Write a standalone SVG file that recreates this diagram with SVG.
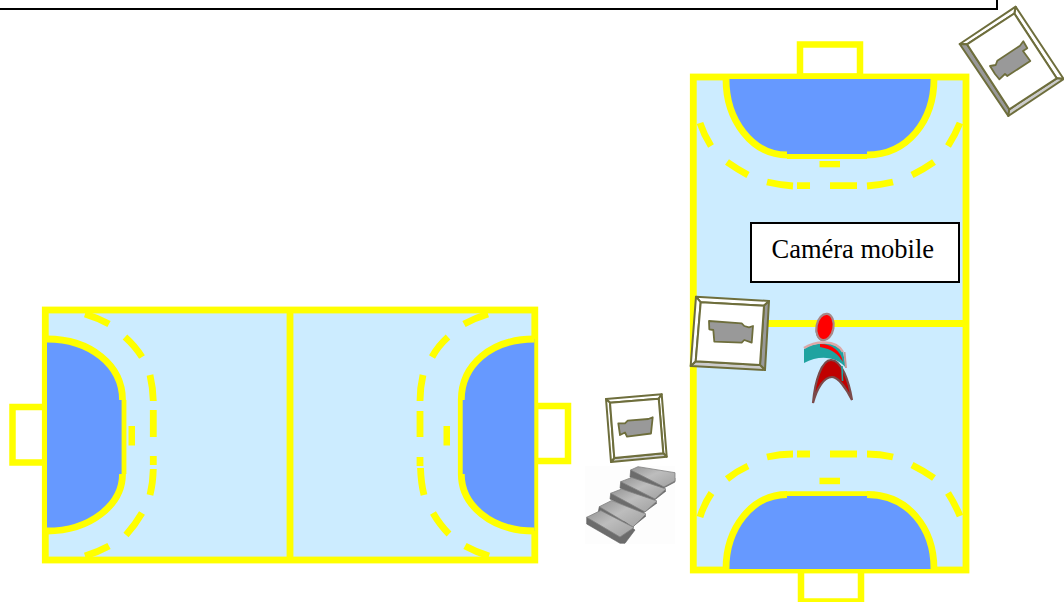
<svg xmlns="http://www.w3.org/2000/svg" width="1064" height="602" viewBox="0 0 1064 602">
<style>
.court{fill:#CCECFF;stroke:#FFFF00;stroke-width:6.8}
.goal{fill:#FFFFFF;stroke:#FFFF00;stroke-width:6.5}
.line{fill:none;stroke:#FFFF00;stroke-width:6.8}
.thin{fill:none;stroke:#FFFF00;stroke-width:4.8}
.area{fill:#6699FF}
.mark{fill:#FFFF00}
.frame{fill:#FFFFFF;stroke:#6E6E3C;stroke-width:2;stroke-linejoin:round}
.bl{fill:#FFFFFF;stroke:#6E6E3C;stroke-width:2;stroke-linejoin:round}
.bd{fill:#999999;stroke:#6E6E3C;stroke-width:2;stroke-linejoin:round}
.bg{fill:#CCCCCC;stroke:#6E6E3C;stroke-width:2;stroke-linejoin:round}
.icon{fill:#999999;stroke:#6E6E3C;stroke-width:1.8;stroke-linejoin:round}
.box{fill:#FFFFFF;stroke:#000000;stroke-width:2}
.label{font-family:"Liberation Serif","Times New Roman",serif;font-size:26.5px;fill:#000000;text-anchor:middle}
.sf{fill:url(#stepTop);stroke:#808080;stroke-width:.8}
.sd{fill:#6C6C6C;stroke:#606060;stroke-width:.6}
</style>
<defs>
<linearGradient id="stepTop" x1="0" y1="0" x2="1" y2="1">
<stop offset="0" stop-color="#959595"/><stop offset=".45" stop-color="#BDBDBD"/><stop offset="1" stop-color="#A0A0A0"/>
</linearGradient>
<filter id="soft" x="-5%" y="-5%" width="110%" height="110%"><feGaussianBlur stdDeviation=".6"/></filter>
</defs>

<g id="title-box"><rect class="box" x="-10" y="-10" width="1007" height="19"/></g>

<g id="court-left">
<rect class="goal" x="12.5" y="407" width="33" height="55.5"/>
<rect class="goal" x="535" y="406" width="33" height="55"/>
<rect class="court" x="45.3" y="310" width="489.5" height="250"/>
<path class="line" d="M290,310V560"/>
<path class="area" d="M47,339C90,339 122.5,365 122.5,400H122V474H122.5C122.5,505 90,531 47,531Z"/>
<path class="line" d="M47,339C90,339 122.5,365 122.5,400"/>
<path class="line" d="M122.5,474C122.5,505 90,531 47,531"/>
<path class="thin" d="M124,400V474"/>
<path class="area" d="M534.3,339C491,339 461.3,365 461.3,400H462V474H461.3C461.3,505 491,531 534.3,531Z"/>
<path class="line" d="M534.3,339C491,339 461.3,365 461.3,400"/>
<path class="line" d="M461.3,474C461.3,505 491,531 534.3,531"/>
<path class="thin" d="M460.3,400V474"/>
<rect class="mark" x="128.5" y="426" width="6.5" height="19.5"/>
<rect class="mark" x="443.5" y="426" width="6.5" height="19.5"/>
<path class="line" d="M85,314Q98,318 109,324M125,337Q135,346 142,357M150,375Q153,388 153.3,401M153.3,410V437M153.3,456V465M153.3,469Q153,483 150,495M142,513Q135,525 126,535M109,546Q98,552 85,556"/>
<path class="line" d="M488,314Q475,318 464,324M448,337Q438,346 432,357M423,375Q420,388 420,401M420,411V437M420,457V466M420.5,468Q421,483 424,495M433,513Q440,525 449,534M465,546Q476,552 489,556"/>
</g>

<g id="court-right">
<rect class="goal" x="800" y="44.5" width="60" height="32"/>
<rect class="goal" x="801" y="568" width="60" height="33.5"/>
<rect class="court" x="693.3" y="77" width="272.7" height="493"/>
<path class="line" d="M697,323.5H963"/>
<path class="area" d="M726,79C726,120 752,155 787,155V154H867V155C908,155 934,120 934,79Z"/>
<path class="line" d="M726,79C726,120 752,155 787,155"/>
<path class="line" d="M934,79C934,120 908,155 867,155"/>
<path class="thin" d="M787,156.5H867"/>
<path class="area" d="M726,569C726,528 752,494.5 787,494.5V495H867V494.5C908,494.5 934,528 934,569Z"/>
<path class="line" d="M726,569C726,528 752,494.5 787,494.5"/>
<path class="line" d="M934,569C934,528 908,494.5 867,494.5"/>
<path class="thin" d="M787,493.7H867"/>
<rect class="mark" x="819.5" y="161" width="20.5" height="6.3"/>
<rect class="mark" x="819.5" y="477.7" width="20.5" height="6.5"/>
<path class="line" d="M700,123Q704,135 711,146M727,162Q737,169 748,175M767,182Q780,185 793,186M797,185.7H810M830,185.7H857M867,186Q880,185 893,182M912,175Q924,169 934,162M948,146Q955,135 960,123"/>
<path class="line" d="M700,517Q704,504 711.5,493M727,479Q737,471 748,466M767,457Q780,454 793,454M797,454H810M830,454H857M867,454Q880,454 893,457M912,465Q924,471 934,478M948,493Q955,504 960,516"/>
</g>

<g id="label-camera-mobile">
<rect class="box" x="751" y="223" width="208" height="59"/>
<text class="label" x="852.8" y="258">Caméra mobile</text>
</g>

<g id="camera-top-right">
<polygon class="bl" points="1015.7,6.7 1063.7,79 1056.7,78.3 1014.3,13.5"/>
<polygon class="bl" points="959.7,44 1015.7,6.7 1014.3,13.5 967,44.3"/>
<polygon class="bd" points="959.7,44 967,44.3 1009.3,109.3 1008.3,116"/>
<polygon class="bg" points="1008.3,116 1009.3,109.3 1056.7,78.3 1063.7,79"/>
<polygon class="frame" points="1014.3,13.5 967,44.3 1009.3,109.3 1056.7,78.3"/>
<polygon class="icon" points="990,66 995.7,65 997.3,60.7 1020,45.7 1023.3,41.3 1027.3,48.3 1023,51 1030.3,61 1007.3,76 1005,74 999.3,79.3 995,74"/>
</g>

<g id="camera-middle">
<polygon class="bl" points="696,296.7 769,301 764,305.7 700.7,302.3"/>
<polygon class="bd" points="769,301 765,370 760,365 764,305.7"/>
<polygon class="bg" points="765,370 690.7,366 695.7,361.3 760,365"/>
<polygon class="bl" points="690.7,366 696,296.7 700.7,302.3 695.7,361.3"/>
<polygon class="frame" points="700.7,302.3 764,305.7 760,365 695.7,361.3"/>
<polygon class="icon" points="709,321 741.7,323.3 744.3,326 749,327.3 753,326 751.7,342.7 744.3,340 741.7,342.7 714.3,341.7 713.3,330 709.3,329.3"/>
</g>

<g id="camera-small">
<polygon class="bl" points="606,399 661.7,394.3 658.7,398.7 610,402.7"/>
<polygon class="bl" points="661.7,394.3 666.7,456.7 663.3,453.3 658.7,398.7"/>
<polygon class="bg" points="666.7,456.7 611,462 614.3,458 663.3,453.3"/>
<polygon class="bl" points="611,462 606,399 610,402.7 614.3,458"/>
<polygon class="frame" points="610,402.7 658.7,398.7 663.3,453.3 614.3,458"/>
<polygon class="icon" points="618.3,423.3 625,423.3 627.7,420.7 648.3,419 652.7,417.3 651.7,426.7 651,433.5 627,436.7 625,432.5 620,435"/>
</g>

<g id="stairs">
<rect x="585" y="466" width="90" height="78" fill="#FDFDFD"/>
<g filter="url(#soft)">
<polygon class="sd" points="630.7,470 630,477 660,490 675,482 675,478"/>
<polygon class="sf" points="630.7,470 638,466.7 675,472.7 675,481 664,487"/>
<polygon class="sd" points="620.7,481.7 620,488 652,502 666,491 660,486"/>
<polygon class="sf" points="620.7,481.7 631.7,477.5 666,489 655,499"/>
<polygon class="sd" points="610.7,493.3 610,499 642,514 657,503 650,498"/>
<polygon class="sf" points="610.7,493.3 621.7,489 657,501 645,512"/>
<polygon class="sd" points="599.3,506.7 598,513 630,529 646,516 640,511"/>
<polygon class="sf" points="599.3,506.7 611.7,500.5 646,514 633,527"/>
<polygon class="sd" points="586.7,517.3 586.7,524 620,543.3 625,543.3 635,530 625,522"/>
<polygon class="sf" points="586.7,517.3 600.7,510.5 634,527.5 620,537"/>
</g>
</g>

<g id="player">
<ellipse cx="824.3" cy="328" rx="8.5" ry="13" transform="rotate(10 824.3 328)" fill="#1FA3A0"/>
<ellipse cx="825" cy="327" rx="8.5" ry="13.3" transform="rotate(10 825 327)" fill="#FF0000" stroke="#A88888" stroke-width="2.2"/>
<path d="M804,349C815,342 835,340 843,352L846,368C838,357 820,354 804,363Z" fill="#1FA3A0"/>
<path d="M804,348C815,341 836,339 843,352" fill="none" stroke="#DDA8A8" stroke-width="2.4"/>
<path d="M820,344C832,344 841,351 843,362C838,354 832,349 820,347Z" fill="#FF0000"/>
<path d="M844.5,352L846,368" fill="none" stroke="#C89898" stroke-width="2"/>
<path d="M813,403C815,380 822,360 831,360C842,360 849,382 852,400C846,388 838,377 832,377C824,377 817,388 813,403Z" fill="#C00000" stroke="#7A4A4A" stroke-width="2.2"/>
<path d="M842,366L842.5,381" fill="none" stroke="#1FA3A0" stroke-width="1.6"/>
</g>
</svg>
